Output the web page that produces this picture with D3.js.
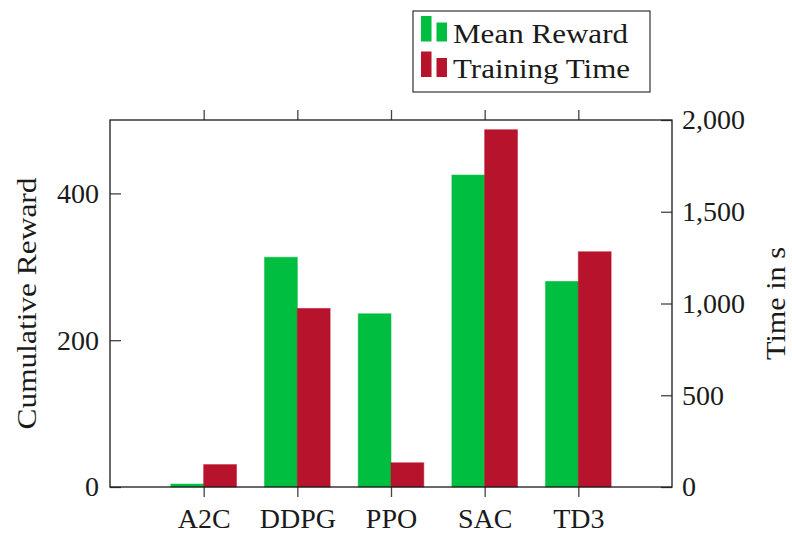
<!DOCTYPE html>
<html>
<head>
<meta charset="utf-8">
<script src="https://cdn.jsdelivr.net/npm/d3@7"></script>
<style>
  body { margin: 0; background: #fff; }
  svg { display: block; font-family: "Liberation Serif", "DejaVu Serif", serif; }
  .tick text { font-size: 28px; fill: #1a1a1a; }
  .tick line { stroke: #444; stroke-width: 1.3; }
</style>
</head>
<body>
<div id="chart"></div>
<script>
// data
const algorithms = ['A2C', 'DDPG', 'PPO', 'SAC', 'TD3'];
const meanReward = [4, 313, 236, 425, 280];
const trainingTime = [122, 973, 132, 1947, 1282];
const rewardTicks = [0, 200, 400];
const timeTicks = [0, 500, 1000, 1500, 2000];

const width = 792, height = 533;
const margin = {top: 120, right: 120, bottom: 46, left: 110};
const w = width - margin.left - margin.right;
const h = height - margin.top - margin.bottom;

const green = '#00be3f';
const red = '#b8132d';
const barWidth = 0.35;

const svg = d3.select('#chart').append('svg')
    .attr('width', width)
    .attr('height', height);

const g = svg.append('g')
    .attr('transform', 'translate(' + margin.left + ',' + margin.top + ')');

// category positions are 0..4, with one unit of padding either side
const x = d3.scaleLinear()
    .domain([-1, algorithms.length])
    .range([0, w]);
const yLeft = d3.scaleLinear()
    .domain([0, 500])
    .range([h, 0]);
const yRight = d3.scaleLinear()
    .domain([0, 2000])
    .range([h, 0]);

// Mean reward bars (left of tick)
g.selectAll('.bar-reward')
    .data(meanReward)
  .enter().append('rect')
    .attr('class', 'bar-reward')
    .attr('x', (d, i) => x(i - barWidth))
    .attr('width', (d, i) => x(i) - x(i - barWidth))
    .attr('y', d => yLeft(d))
    .attr('height', d => h - yLeft(d))
    .attr('fill', green)
    .attr('stroke', green)
    .attr('stroke-opacity', 0.55)
    .attr('stroke-width', 1);

// Training time bars (right of tick)
g.selectAll('.bar-time')
    .data(trainingTime)
  .enter().append('rect')
    .attr('class', 'bar-time')
    .attr('x', (d, i) => x(i))
    .attr('width', (d, i) => x(i + barWidth) - x(i))
    .attr('y', d => yRight(d))
    .attr('height', d => h - yRight(d))
    .attr('fill', red)
    .attr('stroke', red)
    .attr('stroke-opacity', 0.55)
    .attr('stroke-width', 1);

// X axis bottom
const xBottom = g.append('g')
    .attr('transform', 'translate(0,' + h + ')')
    .call(d3.axisBottom(x)
      .tickValues(d3.range(algorithms.length))
      .tickFormat(i => algorithms[i])
      .tickSize(10)
      .tickPadding(11));

// X axis top, ticks only
const xTop = g.append('g')
    .call(d3.axisTop(x)
      .tickValues(d3.range(algorithms.length))
      .tickFormat('')
      .tickSize(10));

// Left axis (ticks inward)
const axLeft = g.append('g')
    .call(d3.axisLeft(yLeft)
      .tickValues(rewardTicks)
      .tickSize(-11)
      .tickPadding(11));

// Right axis (ticks inward)
const axRight = g.append('g')
    .attr('transform', 'translate(' + w + ',0)')
    .call(d3.axisRight(yRight)
      .tickValues(timeTicks)
      .tickFormat(d3.format(','))
      .tickSize(-11)
      .tickPadding(10));

[xBottom, xTop, axLeft, axRight].forEach(a => {
  a.select('.domain').remove();
  a.attr('font-family', null).attr('font-size', null);
});

// frame
g.append('rect')
    .attr('width', w)
    .attr('height', h)
    .attr('fill', 'none')
    .attr('stroke', '#1a1a1a')
    .attr('stroke-width', 1.3);

// Axis titles
svg.append('text')
    .attr('transform', 'translate(36,' + (margin.top + h / 2) + ') rotate(-90)')
    .attr('text-anchor', 'middle')
    .attr('font-size', 28)
    .attr('textLength', 252)
    .attr('lengthAdjust', 'spacingAndGlyphs')
    .attr('fill', '#1a1a1a')
    .text('Cumulative Reward');

svg.append('text')
    .attr('transform', 'translate(785,' + (margin.top + h / 2) + ') rotate(-90)')
    .attr('text-anchor', 'middle')
    .attr('font-size', 28)
    .attr('textLength', 113)
    .attr('lengthAdjust', 'spacingAndGlyphs')
    .attr('fill', '#1a1a1a')
    .text('Time in s');

// Legend
const legendItems = [
  {label: 'Mean Reward', color: green},
  {label: 'Training Time', color: red}
];
const legend = svg.append('g').attr('transform', 'translate(413,11)');
legend.append('rect')
    .attr('width', 237)
    .attr('height', 81)
    .attr('fill', '#fff')
    .attr('stroke', '#333')
    .attr('stroke-width', 1.2);

const entry = legend.selectAll('.entry')
    .data(legendItems)
  .enter().append('g')
    .attr('class', 'entry')
    .attr('transform', (d, i) => 'translate(0,' + (i * 35.5) + ')');

entry.append('rect')
    .attr('x', 8).attr('y', 5)
    .attr('width', 10.5).attr('height', 25.5)
    .attr('fill', d => d.color);
entry.append('rect')
    .attr('x', 23.5).attr('y', 11.5)
    .attr('width', 10.5).attr('height', 19)
    .attr('fill', d => d.color);
entry.append('text')
    .attr('x', 40)
    .attr('y', 31.5)
    .attr('font-size', 28)
    .attr('textLength', (d, i) => i === 0 ? 175 : 177)
    .attr('lengthAdjust', 'spacingAndGlyphs')
    .attr('fill', '#1a1a1a')
    .text(d => d.label);
</script>
</body>
</html>
